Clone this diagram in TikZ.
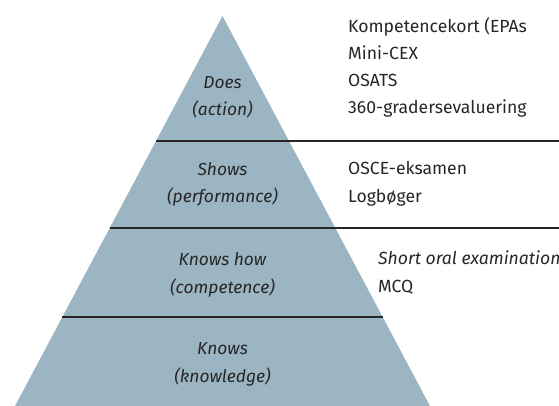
\documentclass[tikz,border=0pt]{standalone}
\usepackage{fontspec}
\setmainfont{Fira Sans}
\begin{document}
\begin{tikzpicture}[x=1pt,y=-1pt,
  level/.style={font=\itshape\fontsize{17.4}{27.2}\selectfont, align=center, anchor=base, text=black!85, inner sep=0pt},
  tool/.style={font=\fontsize{17.6}{27.2}\selectfont, align=left, anchor=base west, text=black!85, inner sep=0pt},
  divider/.style={line width=1.3pt, draw=black!85}]
  \definecolor{pyr}{RGB}{155,181,194}
  \useasboundingbox (0,0) rectangle (559,406);
  % pyramid
  \coordinate (apex) at (222.5,16);
  \coordinate (bl) at (15,406);
  \coordinate (br) at (430,406);
  \fill[pyr] (apex) -- (br) -- (bl) -- cycle;
  % dividers between the levels
  \coordinate (d1l) at (156,141);
  \coordinate (d1r) at (559,141);
  \coordinate (d2l) at (109.5,228);
  \coordinate (d2r) at (559,228);
  \coordinate (d3l) at (62,317);
  \coordinate (d3r) at (383,317);
  \draw[divider] (d1l) -- (d1r);
  \draw[divider] (d2l) -- (d2r);
  \draw[divider] (d3l) -- (d3r);
  % level labels (anchored at the baseline of the last line)
  \node[level] (does) at (222.5,116) {Does\\(action)};
  \node[level] (shows) at (222.5,203) {Shows\\(performance)};
  \node[level] (knowshow) at (222.5,293) {Knows how\\(competence)};
  \node[level] (knows) at (222.5,382) {Knows\\(knowledge)};
  % assessment methods
  \node[tool] (t1) at (348,114) {Kompetencekort (EPAs\\Mini-CEX\\OSATS\\360-gradersevaluering};
  \node[tool] (t2) at (348,202) {OSCE-eksamen\\Logbøger};
  \node[tool] (t3) at (378,292) {\textit{Short oral examination}\\MCQ};
\end{tikzpicture}
\end{document}
